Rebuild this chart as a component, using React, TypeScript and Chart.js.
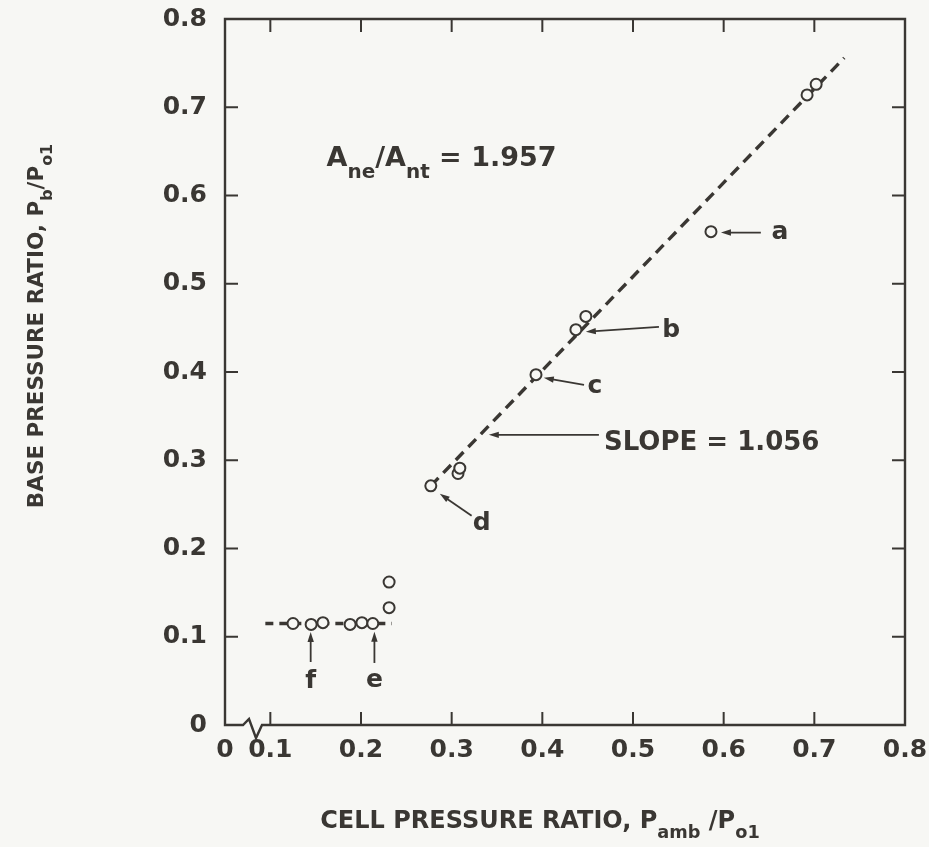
import React, { useEffect, useRef } from "react";
import { Chart, registerables } from "chart.js";

Chart.register(...registerables);

const INK = "#3a3733";
const BG = "#f7f7f4";
const FONT = "'DejaVu Sans', sans-serif";

// Measured data points (cell pressure ratio, base pressure ratio)
const pointX = [0.125, 0.145, 0.158, 0.188, 0.201, 0.213, 0.231, 0.231, 0.277, 0.307, 0.309, 0.393, 0.437, 0.448, 0.586, 0.692, 0.702];
const pointY = [0.115, 0.114, 0.116, 0.114, 0.116, 0.115, 0.133, 0.162, 0.271, 0.285, 0.291, 0.397, 0.448, 0.463, 0.559, 0.714, 0.726];

// Fitted dashed line (slope = 1.056)
const fitX = [0.277, 0.733];
const fitY = [0.271, 0.756];

// Low-pressure plateau dashed line
const flatX = [0.0945, 0.234];
const flatY = [0.115, 0.115];

// Axis ticks
const xTickValues = [0.05, 0.1, 0.2, 0.3, 0.4, 0.5, 0.6, 0.7, 0.8];
const xTickLabels = ["0", "0.1", "0.2", "0.3", "0.4", "0.5", "0.6", "0.7", "0.8"];
const yTickValues = [0, 0.1, 0.2, 0.3, 0.4, 0.5, 0.6, 0.7, 0.8];
const yTickLabels = ["0", "0.1", "0.2", "0.3", "0.4", "0.5", "0.6", "0.7", "0.8"];

// Arrows: a, b, c, slope, d, e, f
const arrowTailX = [0.641, 0.5286, 0.446, 0.4624, 0.322, 0.2148, 0.1445];
const arrowTailY = [0.558, 0.4512, 0.3855, 0.3288, 0.237, 0.0703, 0.0714];
const arrowHeadX = [0.597, 0.448, 0.4016, 0.341, 0.2869, 0.2148, 0.1445];
const arrowHeadY = [0.558, 0.4456, 0.3934, 0.3288, 0.262, 0.1058, 0.1054];

// Letter labels
const labelTexts = ["a", "b", "c", "d", "e", "f"];
const labelX = [0.662, 0.542, 0.458, 0.333, 0.2148, 0.1445];
const labelY = [0.5507, 0.440, 0.3764, 0.221, 0.0434, 0.042];

const slopeText = "SLOPE = 1.056";
const slopePos = [0.468, 0.312];
const areaPos = [0.162, 0.633];

type Seg = { t: string; sub?: boolean };
const areaSegs: Seg[] = [{ t: "A" }, { t: "ne", sub: true }, { t: "/A" }, { t: "nt", sub: true }, { t: " = 1.957" }];
const xTitleSegs: Seg[] = [{ t: "CELL PRESSURE RATIO, P" }, { t: "amb", sub: true }, { t: " /P" }, { t: "o1", sub: true }];
const yTitleSegs: Seg[] = [{ t: "BASE PRESSURE RATIO, P" }, { t: "b", sub: true }, { t: "/P" }, { t: "o1", sub: true }];

function fontOf(size: number) {
  return `bold ${size}px ${FONT}`;
}

function drawRich(ctx: CanvasRenderingContext2D, segs: Seg[], x: number, y: number, size: number, align: "left" | "center") {
  const subSize = size * 0.74;
  let w = 0;
  for (const s of segs) {
    ctx.font = fontOf(s.sub ? subSize : size);
    w += ctx.measureText(s.t).width;
  }
  let cx = align === "center" ? x - w / 2 : x;
  ctx.textAlign = "left";
  ctx.textBaseline = "alphabetic";
  for (const s of segs) {
    ctx.font = fontOf(s.sub ? subSize : size);
    ctx.fillText(s.t, cx, s.sub ? y + size * 0.42 : y);
    cx += ctx.measureText(s.t).width;
  }
}

const decorPlugin = {
  id: "decor",
  beforeDraw(chart: any) {
    const ctx = chart.ctx as CanvasRenderingContext2D;
    ctx.save();
    ctx.fillStyle = BG;
    ctx.fillRect(0, 0, chart.width, chart.height);
    ctx.restore();
  },
  afterDatasetsDraw(chart: any) {
    const ctx = chart.ctx as CanvasRenderingContext2D;
    const xs = chart.scales.x;
    const ys = chart.scales.y;
    const { left, right, top, bottom } = chart.chartArea;
    ctx.save();
    ctx.strokeStyle = INK;
    ctx.fillStyle = INK;
    ctx.lineWidth = 2.4;
    ctx.lineCap = "butt";
    ctx.lineJoin = "miter";
    // frame with axis break
    ctx.beginPath();
    ctx.moveTo(left, top);
    ctx.lineTo(right, top);
    ctx.lineTo(right, bottom);
    ctx.lineTo(left + 37, bottom);
    ctx.lineTo(left + 31, bottom + 13);
    ctx.lineTo(left + 24, bottom - 6);
    ctx.lineTo(left + 18, bottom);
    ctx.lineTo(left, bottom);
    ctx.closePath();
    ctx.stroke();
    // inward ticks
    ctx.lineWidth = 2;
    const TL = 13;
    ctx.beginPath();
    for (const v of yTickValues) {
      if (v <= 0 || v >= 0.8) continue;
      const py = ys.getPixelForValue(v);
      ctx.moveTo(left, py);
      ctx.lineTo(left + TL, py);
      ctx.moveTo(right, py);
      ctx.lineTo(right - TL, py);
    }
    for (const v of xTickValues) {
      if (v < 0.09 || v > 0.75) continue;
      const px = xs.getPixelForValue(v);
      ctx.moveTo(px, bottom);
      ctx.lineTo(px, bottom - TL);
      ctx.moveTo(px, top);
      ctx.lineTo(px, top + TL);
    }
    ctx.stroke();

    // arrows
    ctx.lineWidth = 1.8;
    for (let i = 0; i < arrowTailX.length; i++) {
      const x1 = xs.getPixelForValue(arrowTailX[i]);
      const y1 = ys.getPixelForValue(arrowTailY[i]);
      const x2 = xs.getPixelForValue(arrowHeadX[i]);
      const y2 = ys.getPixelForValue(arrowHeadY[i]);
      const ang = Math.atan2(y2 - y1, x2 - x1);
      const hl = 10;
      const hw = 3.2;
      ctx.beginPath();
      ctx.moveTo(x1, y1);
      ctx.lineTo(x2 - Math.cos(ang) * hl * 0.6, y2 - Math.sin(ang) * hl * 0.6);
      ctx.stroke();
      ctx.beginPath();
      ctx.moveTo(x2, y2);
      ctx.lineTo(x2 - Math.cos(ang) * hl - Math.sin(ang) * hw, y2 - Math.sin(ang) * hl + Math.cos(ang) * hw);
      ctx.lineTo(x2 - Math.cos(ang) * hl + Math.sin(ang) * hw, y2 - Math.sin(ang) * hl - Math.cos(ang) * hw);
      ctx.closePath();
      ctx.fill();
    }

    // letter labels
    ctx.font = fontOf(25);
    ctx.textAlign = "center";
    ctx.textBaseline = "alphabetic";
    for (let i = 0; i < labelTexts.length; i++) {
      ctx.fillText(labelTexts[i], xs.getPixelForValue(labelX[i]), ys.getPixelForValue(labelY[i]));
    }
    // slope text
    ctx.font = fontOf(26);
    ctx.textAlign = "left";
    ctx.fillText(slopeText, xs.getPixelForValue(slopePos[0]), ys.getPixelForValue(slopePos[1]));
    // area ratio text
    drawRich(ctx, areaSegs, xs.getPixelForValue(areaPos[0]), ys.getPixelForValue(areaPos[1]), 27, "left");

    // axis titles
    drawRich(ctx, xTitleSegs, 540, 828, 24, "center");
    ctx.save();
    ctx.translate(43, 326);
    ctx.rotate(-Math.PI / 2);
    drawRich(ctx, yTitleSegs, 0, 0, 21.5, "center");
    ctx.restore();
    ctx.restore();
  },
};

export default function App() {
  const ref = useRef<HTMLCanvasElement | null>(null);
  useEffect(() => {
    if (!ref.current) return;
    const chart = new Chart(ref.current, {
      type: "scatter",
      data: {
        datasets: [
          {
            label: "data",
            data: pointX.map((x, i) => ({ x, y: pointY[i] })),
            showLine: false,
            pointStyle: "circle",
            pointRadius: 5.5,
            pointBorderWidth: 2,
            pointBorderColor: INK,
            pointBackgroundColor: BG,
            order: 0,
          },
          {
            label: "fit",
            data: fitX.map((x, i) => ({ x, y: fitY[i] })),
            showLine: true,
            borderColor: INK,
            borderWidth: 3.4,
            borderDash: [11, 7],
            pointRadius: 0,
            order: 1,
          },
          {
            label: "flat",
            data: flatX.map((x, i) => ({ x, y: flatY[i] })),
            showLine: true,
            borderColor: INK,
            borderWidth: 3.4,
            borderDash: [8, 6],
            pointRadius: 0,
            order: 1,
          },
        ],
      },
      options: {
        responsive: false,
        animation: false,
        events: [],
        clip: false,
        layout: { padding: { top: 19, right: 24, left: 0, bottom: 0 } },
        plugins: { legend: { display: false }, tooltip: { enabled: false }, title: { display: false } },
        scales: {
          x: {
            type: "linear",
            min: 0.05,
            max: 0.8,
            grid: { display: false, drawTicks: false },
            border: { display: false },
            afterBuildTicks: (scale: any) => {
              scale.ticks = xTickValues.map((v) => ({ value: v }));
            },
            afterFit: (scale: any) => {
              scale.height = 122;
              scale.paddingLeft = 0;
              scale.paddingRight = 0;
            },
            ticks: {
              autoSkip: false,
              maxRotation: 0,
              padding: 10,
              color: INK,
              font: { family: FONT, size: 25, weight: "bold" },
              callback: (_v: any, i: number) => xTickLabels[i],
            },
          },
          y: {
            type: "linear",
            min: 0,
            max: 0.8,
            grid: { display: false, drawTicks: false },
            border: { display: false },
            afterBuildTicks: (scale: any) => {
              scale.ticks = yTickValues.map((v) => ({ value: v }));
            },
            afterFit: (scale: any) => {
              scale.width = 225;
              scale.paddingTop = 0;
              scale.paddingBottom = 0;
            },
            ticks: {
              autoSkip: false,
              padding: 18,
              color: INK,
              font: { family: FONT, size: 25, weight: "bold" },
              callback: (_v: any, i: number) => yTickLabels[i],
            },
          },
        },
      },
      plugins: [decorPlugin],
    } as any);
    return () => chart.destroy();
  }, []);
  return (
    <div style={{ position: "fixed", left: 0, top: 0, width: 929, height: 847, background: BG }}>
      <canvas ref={ref} width={929} height={847} style={{ display: "block", width: 929, height: 847 }} />
    </div>
  );
}
